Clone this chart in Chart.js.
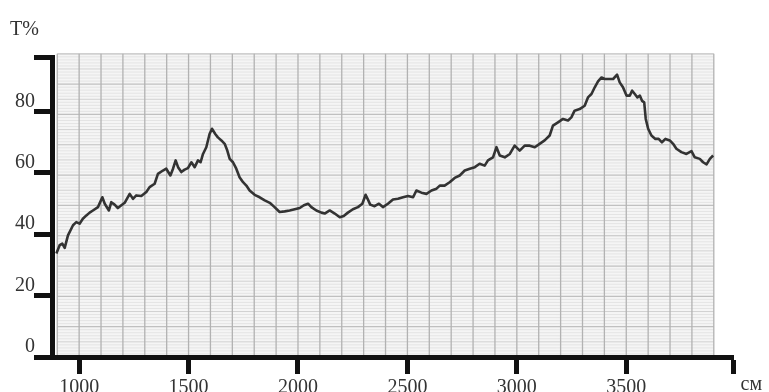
<!DOCTYPE html>
<html>
<head>
<meta charset="utf-8">
<script src="https://cdn.jsdelivr.net/npm/chart.js@4.4.1/dist/chart.umd.min.js"></script>
<style>
  html, body { margin: 0; padding: 0; background: #ffffff; overflow: hidden; }
  #wrap { position: relative; width: 769px; height: 392px; }
</style>
</head>
<body>
<div id="wrap"><canvas id="ir"></canvas></div>
<script>
// IR transmission spectrum: wavenumber (cm^-1) vs transmittance (%)
const wavenumbers = [
  896, 911, 923, 934, 949, 972, 987, 1002, 1017, 1033, 1048, 1063, 1086, 1106, 1117, 1136,
  1147, 1162, 1177, 1193, 1208, 1231, 1246, 1261, 1284, 1307, 1322, 1345, 1360, 1383, 1398,
  1417, 1429, 1441, 1452, 1467, 1482, 1497, 1513, 1528, 1543, 1555, 1566, 1581, 1596, 1607,
  1622, 1634, 1650, 1665, 1677, 1688, 1703, 1718, 1733, 1749, 1764, 1779, 1802, 1825, 1848,
  1871, 1893, 1916, 1939, 1962, 1985, 2008, 2027, 2046, 2061, 2084, 2107, 2122, 2145, 2168,
  2191, 2209, 2228, 2251, 2274, 2294, 2309, 2318, 2330, 2350, 2370, 2388, 2411, 2434, 2457,
  2480, 2503, 2526, 2541, 2564, 2587, 2610, 2633, 2648, 2670, 2693, 2716, 2739, 2762, 2785,
  2808, 2830, 2853, 2868, 2891, 2907, 2922, 2945, 2968, 2990, 3013, 3036, 3059, 3082, 3104,
  3127, 3150, 3165, 3188, 3211, 3234, 3249, 3264, 3287, 3310, 3325, 3341, 3356, 3371, 3387,
  3402, 3420, 3440, 3458, 3470, 3485, 3501, 3516, 3527, 3539, 3551, 3562, 3572, 3582, 3589,
  3600, 3615, 3633, 3648, 3663, 3679, 3699, 3714, 3729, 3752, 3775, 3798, 3813, 3836, 3851,
  3867, 3882, 3897
];
const transmittance = [
  33.7, 36.4, 36.9, 35.5, 39.6, 42.9, 43.9, 43.4, 45.0, 46.1, 47.0, 47.7, 48.8, 52.0, 49.9, 47.7,
  50.4, 49.6, 48.5, 49.4, 50.2, 53.1, 51.5, 52.6, 52.4, 53.7, 55.3, 56.4, 59.6, 60.7, 61.3,
  59.1, 61.3, 64.0, 61.8, 60.2, 61.0, 61.5, 63.4, 61.8, 64.0, 63.4, 66.1, 68.3, 72.6, 74.3,
  72.6, 71.5, 70.5, 69.4, 67.2, 64.5, 63.4, 61.3, 58.5, 56.9, 55.8, 54.2, 52.8, 52.0, 51.0,
  50.2, 48.8, 47.2, 47.4, 47.7, 48.1, 48.5, 49.4, 49.9, 48.8, 47.7, 47.0, 46.7, 47.7, 46.7,
  45.5, 45.9, 47.0, 48.1, 48.8, 49.9, 52.8, 51.5, 49.6, 49.1, 49.9, 48.8, 49.9, 51.3, 51.5,
  52.0, 52.4, 52.0, 54.2, 53.5, 53.1, 54.2, 54.8, 55.8, 55.8, 56.9, 58.3, 59.1, 60.7, 61.3,
  61.8, 62.9, 62.3, 64.0, 65.0, 68.3, 65.6, 65.0, 66.1, 68.8, 67.2, 68.8, 68.8, 68.3, 69.4,
  70.5, 72.1, 75.3, 76.4, 77.5, 77.0, 78.0, 80.2, 80.7, 81.8, 84.5, 85.6, 87.8, 89.7, 91.0,
  90.5, 90.5, 90.5, 91.9, 89.4, 87.8, 85.1, 85.1, 86.7, 85.6, 84.5, 85.1, 83.4, 82.9, 77.5,
  74.3, 72.1, 71.0, 71.0, 69.9, 71.0, 70.5, 69.4, 67.8, 66.7, 66.1, 67.0, 65.0, 64.5, 63.4,
  62.7, 64.5, 65.6
];
const xTickValues = [1000, 1500, 2000, 2500, 3000, 3500];
const yTickValues = [0, 20, 40, 60, 80];
const yAxisTitle = 'T%';
const xAxisUnit = 'см';

const X_MIN = 876, X_MAX = 3990;
const Y_MIN = 0, Y_MAX = 97.5;
const PAPER_X = [900, 3900];
const PAPER_TOP = 98.7;

const serif = '"Liberation Serif", "DejaVu Serif", serif';

// Chart-paper background: vertical rules every 100 cm^-1, fine horizontal rules
const paperPlugin = {
  id: 'paper',
  beforeDraw(chart) {
    const { ctx, scales: { x, y } } = chart;
    ctx.save();
    ctx.fillStyle = '#ffffff';
    ctx.fillRect(0, 0, chart.width, chart.height);
    const left = x.getPixelForValue(PAPER_X[0]);
    const right = x.getPixelForValue(PAPER_X[1]);
    const top = y.getPixelForValue(PAPER_TOP);
    const bottom = y.getPixelForValue(0);
    ctx.fillStyle = '#f5f5f5';
    ctx.fillRect(left, top, right - left, bottom - top);
    // fine horizontal rules
    for (let k = 0; k <= 100; k++) {
      const py = y.getPixelForValue(PAPER_TOP * k / 100);
      ctx.beginPath();
      if (k % 10 === 0) { ctx.strokeStyle = '#c0c0c0'; ctx.lineWidth = 1.2; }
      else if (k % 5 === 0) { ctx.strokeStyle = '#d2d2d2'; ctx.lineWidth = 1; }
      else { ctx.strokeStyle = '#e0e0e0'; ctx.lineWidth = 0.8; }
      ctx.moveTo(left, py);
      ctx.lineTo(right, py);
      ctx.stroke();
    }
    // vertical rules
    ctx.strokeStyle = '#b2b2b2';
    ctx.lineWidth = 1.3;
    for (let w = PAPER_X[0]; w <= PAPER_X[1]; w += 100) {
      const px = x.getPixelForValue(w);
      ctx.beginPath();
      ctx.moveTo(px, top);
      ctx.lineTo(px, bottom);
      ctx.stroke();
    }
    ctx.restore();
  }
};

// Axis captions: quantity above the y axis, unit after the x axis
const captionPlugin = {
  id: 'captions',
  afterDraw(chart) {
    const { ctx, scales: { x } } = chart;
    ctx.save();
    ctx.fillStyle = '#333333';
    ctx.font = '20px ' + serif;
    ctx.textBaseline = 'alphabetic';
    ctx.textAlign = 'left';
    ctx.fillText(yAxisTitle, 10, 35);
    ctx.fillText(xAxisUnit, x.right + 7, 390);
    ctx.restore();
  }
};

const axisColor = '#111111';

new Chart(document.getElementById('ir'), {
  type: 'line',
  data: {
    datasets: [{
      data: wavenumbers.map((w, i) => ({ x: w, y: transmittance[i] })),
      borderColor: '#333333',
      borderWidth: 2.6,
      pointRadius: 0,
      tension: 0,
      borderJoinStyle: 'round',
      fill: false
    }]
  },
  options: {
    responsive: true,
    maintainAspectRatio: false,
    animation: false,
    events: [],
    layout: { padding: { top: 57.5, right: 35.5, bottom: 0, left: 0 } },
    plugins: { legend: { display: false }, tooltip: { enabled: false }, title: { display: false } },
    scales: {
      x: {
        type: 'linear',
        min: X_MIN,
        max: X_MAX,
        afterBuildTicks(scale) {
          scale.ticks = [...xTickValues, X_MAX].map(v => ({ value: v }));
        },
        afterFit(scale) { scale.height = 35; },
        border: { display: true, width: 5, color: axisColor },
        grid: { drawOnChartArea: false, drawTicks: true, tickLength: 17, tickWidth: 5, tickColor: axisColor },
        ticks: {
          autoSkip: false,
          maxRotation: 0,
          padding: 2,
          color: '#333333',
          font: { family: serif, size: 20 },
          callback: v => (xTickValues.includes(v) ? String(v) : '')
        }
      },
      y: {
        type: 'linear',
        min: Y_MIN,
        max: Y_MAX,
        afterBuildTicks(scale) {
          scale.ticks = [...yTickValues, Y_MAX].map(v => ({ value: v }));
        },
        afterFit(scale) { scale.width = 52; },
        border: { display: true, width: 5, color: axisColor },
        grid: { drawOnChartArea: false, drawTicks: true, tickLength: 18, tickWidth: 5, tickColor: axisColor },
        ticks: {
          autoSkip: false,
          padding: -1,
          labelOffset: -10,
          color: '#333333',
          font: { family: serif, size: 20 },
          callback: v => (yTickValues.includes(v) ? String(v) : '')
        }
      }
    }
  },
  plugins: [paperPlugin, captionPlugin]
});
</script>
</body>
</html>
